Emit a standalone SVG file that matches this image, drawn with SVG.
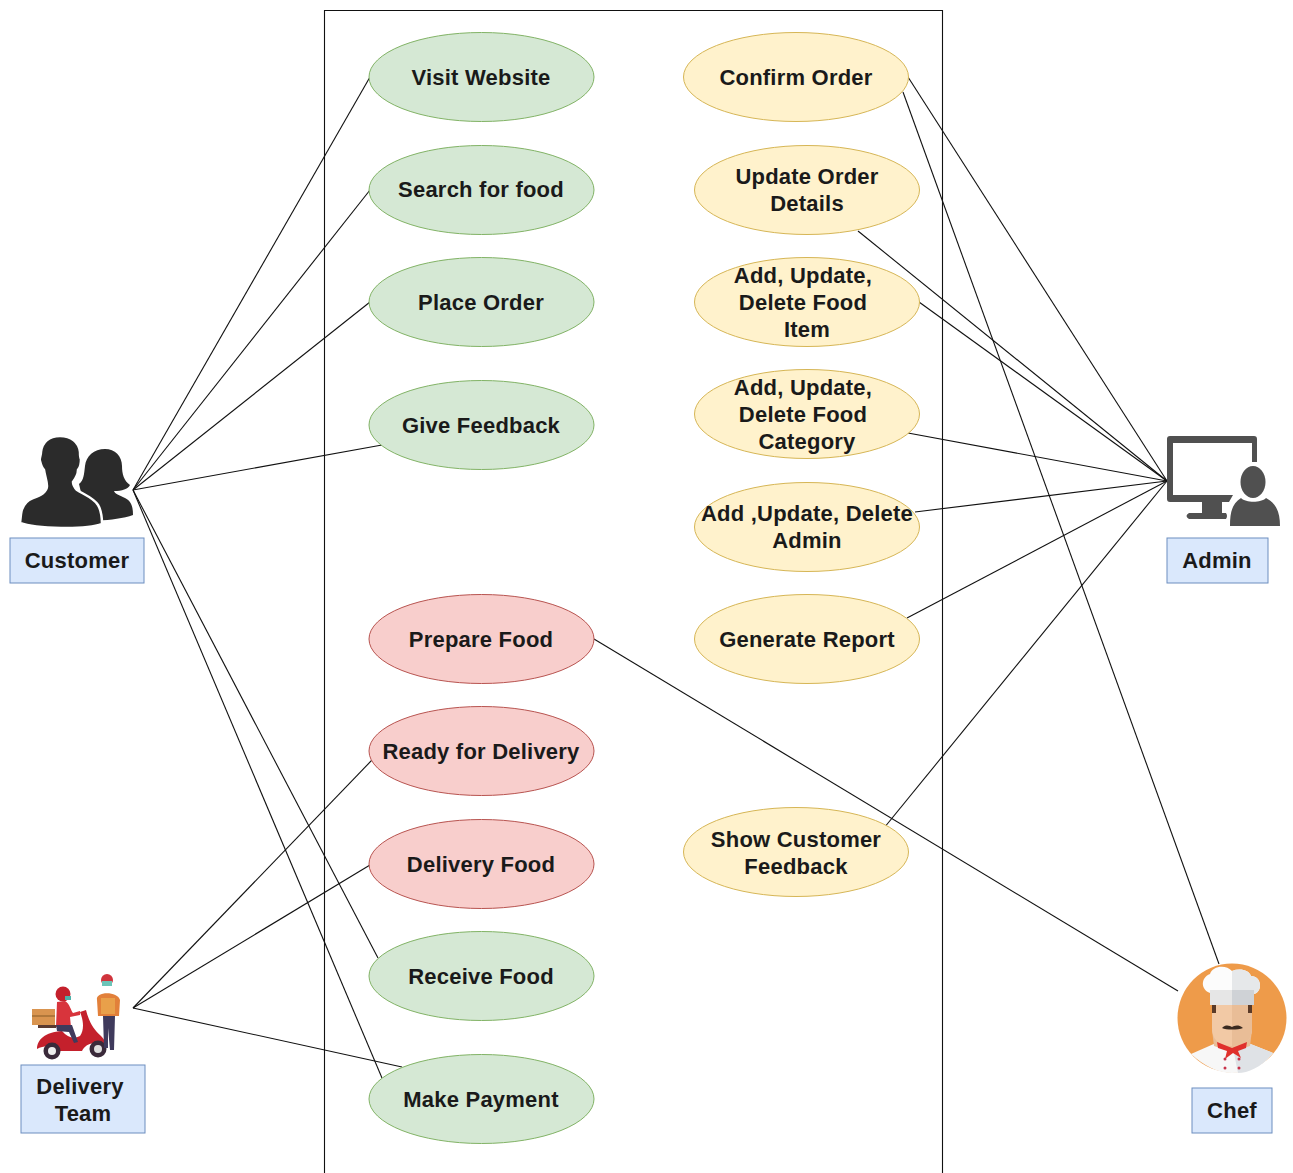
<svg xmlns="http://www.w3.org/2000/svg" width="1293" height="1173" viewBox="0 0 1293 1173">
<style>
text{font-family:"Liberation Sans",Arial,sans-serif;font-weight:bold;font-size:22px;letter-spacing:.22px;fill:#1a1a1a;text-anchor:middle}
.uc ellipse{stroke-width:1}
.g ellipse{fill:#d5e8d4;stroke:#82b366}
.r ellipse{fill:#f8cecc;stroke:#b85450}
.y ellipse{fill:#fff2cc;stroke:#d6b656}
.b{fill:#dae8fc;stroke:#6c8ebf;stroke-width:1}
#connectors line{stroke:#111;stroke-width:1.1}
.ic{fill:#2b2b2b}
.ad{fill:#505050}
</style>
<rect width="1293" height="1173" fill="#fff"/>
<path id="system" d="M324.500 1173V10.500H942.500V1173" fill="none" stroke="#111" stroke-width="1.1"/>
<g id="connectors">
<line x1="133" y1="490" x2="370" y2="77"/>
<line x1="133" y1="490" x2="370" y2="190"/>
<line x1="133" y1="490" x2="370" y2="302"/>
<line x1="133" y1="490" x2="382" y2="445"/>
<line x1="133" y1="490" x2="378" y2="958"/>
<line x1="133" y1="490" x2="382" y2="1078"/>
<line x1="133" y1="1008" x2="372" y2="760"/>
<line x1="133" y1="1008" x2="370" y2="865"/>
<line x1="133" y1="1008" x2="402" y2="1067"/>
<line x1="1167" y1="481" x2="908" y2="77"/>
<line x1="1167" y1="481" x2="858" y2="231"/>
<line x1="1167" y1="481" x2="919" y2="302"/>
<line x1="1167" y1="481" x2="908" y2="433"/>
<line x1="1167" y1="481" x2="915" y2="512"/>
<line x1="1167" y1="481" x2="907" y2="618"/>
<line x1="1167" y1="481" x2="884" y2="828"/>
<line x1="903" y1="92" x2="1219" y2="964"/>
<line x1="594" y1="639" x2="1178" y2="991"/>
</g>
<g id="visit-website" class="uc g"><ellipse cx="481.500" cy="77" rx="112.500" ry="44.500"/><text x="481" y="85">Visit Website</text></g>
<g id="search-food" class="uc g"><ellipse cx="481.500" cy="190" rx="112.500" ry="44.500"/><text x="481" y="197">Search for food</text></g>
<g id="place-order" class="uc g"><ellipse cx="481.500" cy="302" rx="112.500" ry="44.500"/><text x="481" y="310">Place Order</text></g>
<g id="give-feedback" class="uc g"><ellipse cx="481.500" cy="425" rx="112.500" ry="44.500"/><text x="481" y="433">Give Feedback</text></g>
<g id="prepare-food" class="uc r"><ellipse cx="481.500" cy="639" rx="112.500" ry="44.500"/><text x="481" y="646.500">Prepare Food</text></g>
<g id="ready-delivery" class="uc r"><ellipse cx="481.500" cy="751" rx="112.500" ry="44.500"/><text x="481" y="758.500">Ready for Delivery</text></g>
<g id="delivery-food" class="uc r"><ellipse cx="481.500" cy="864" rx="112.500" ry="44.500"/><text x="481" y="871.500">Delivery Food</text></g>
<g id="receive-food" class="uc g"><ellipse cx="481.500" cy="976" rx="112.500" ry="44.500"/><text x="481" y="983.500">Receive Food</text></g>
<g id="make-payment" class="uc g"><ellipse cx="481.500" cy="1099" rx="112.500" ry="44.500"/><text x="481" y="1107">Make Payment</text></g>
<g id="confirm-order" class="uc y"><ellipse cx="796" cy="77" rx="112.500" ry="44.500"/><text x="796" y="85">Confirm Order</text></g>
<g id="update-order" class="uc y"><ellipse cx="807" cy="190" rx="112.500" ry="44.500"/><text x="807" y="184">Update Order</text><text x="807" y="211">Details</text></g>
<g id="food-item" class="uc y"><ellipse cx="807" cy="302" rx="112.500" ry="44.500"/><text x="803" y="283">Add, Update,</text><text x="803" y="310">Delete Food</text><text x="807" y="337">Item</text></g>
<g id="food-category" class="uc y"><ellipse cx="807" cy="414" rx="112.500" ry="44.500"/><text x="803" y="395">Add, Update,</text><text x="803" y="422">Delete Food</text><text x="807" y="449">Category</text></g>
<g id="admin-crud" class="uc y"><ellipse cx="807" cy="527" rx="112.500" ry="44.500"/><text x="807" y="521">Add ,Update, Delete</text><text x="807" y="548">Admin</text></g>
<g id="report" class="uc y"><ellipse cx="807" cy="639" rx="112.500" ry="44.500"/><text x="807" y="647">Generate Report</text></g>
<g id="show-feedback" class="uc y"><ellipse cx="796" cy="852" rx="112.500" ry="44.500"/><text x="796" y="847">Show Customer</text><text x="796" y="874">Feedback</text></g>
<g id="customer">
<path class="ic" d="M105 449C94 449 86 456 85 466C84 474 84 480 79 484L84 505L90 520C105 521 122 519 133 515C133 506 131 501 125 498C119 495 115 494 114 491C122 491 128 489 130 485C124 481 122 474 122 466C122 456 115 449 105 449Z"/>
<path class="ic" stroke="#fff" stroke-width="2.500" d="M60 436C49 436 42 442 41 452C41 456 39 458 40 461C41 465 42 468 44 470C45 477 47 481 47 486C47 492 41 495 33 498C25 501 22 506 21 514L20 523C36 529 86 530 102 524C102 516 101 510 98 505C94 498 83 494 77 490C75 488 73 486 73 482C76 478 78 474 78 470C80 468 81 463 81 459C80 458 80 455 80 452C79 442 71 436 60 436Z"/>
<rect class="b" x="10" y="538" width="134" height="45"/>
<text x="77" y="568">Customer</text>
</g>
<g id="delivery-team">
<rect x="32" y="1009" width="23" height="16" fill="#d9944f"/><rect x="32" y="1015" width="23" height="2" fill="#b0773a"/>
<path d="M38 1025H56V1028H38Z" fill="#5a3a30"/>
<path d="M37 1049C37 1040 45 1032 62 1031C68 1038 74 1039 80 1036C84 1030 84 1022 80 1012L86 1010C89 1022 94 1030 101 1036C105 1040 107 1044 106 1048C96 1040 86 1043 82 1051L60 1051C54 1045 44 1045 37 1049Z" fill="#c4202c"/>
<circle cx="52" cy="1051" r="8.500" fill="#3a2a3a"/><circle cx="52" cy="1051" r="4" fill="#eee"/>
<circle cx="98" cy="1049" r="8.500" fill="#3a2a3a"/><circle cx="98" cy="1049" r="4" fill="#ddd"/>
<path d="M57 1002L65 1001C70 1004 71 1011 73 1013L80 1011L80 1015L70 1017L71 1027L56 1027Z" fill="#d8343c"/>
<path d="M56 1025L72 1025L78 1042L74 1043L69 1032L57 1031Z" fill="#3f3a5c"/>
<circle cx="63" cy="994" r="7.500" fill="#c4202c"/><path d="M65 996h6v4h-6z" fill="#4eb0a8"/>
<path d="M97 1000C95 991 118 991 120 1000L119 1016L98 1016Z" fill="#e2803a"/><rect x="101" y="998" width="14" height="16" fill="#e9a04a"/>
<path d="M103 1016H115L114 1050H110L108 1028L108 1048H104Z" fill="#3f3a5c"/>
<circle cx="107" cy="980" r="6" fill="#d0343c"/><path d="M102 981h10v5h-10z" fill="#6cc4b8"/>
<rect class="b" x="21" y="1065" width="124" height="68"/>
<text x="80" y="1094">Delivery</text><text x="83" y="1121">Team</text>
</g>
<g id="admin">
<path class="ad" fill-rule="evenodd" d="M1170 436H1254Q1257 436 1257 439V462H1252V443H1173V495H1233L1229 502H1222V513H1226Q1228 516 1226 519H1189Q1184 516 1189 513H1202V502H1170Q1167 502 1167 499V439Q1167 436 1170 436Z"/>
<ellipse class="ad" cx="1253" cy="482" rx="12.500" ry="16"/>
<path class="ad" d="M1230 526C1230 512 1232 504 1241 498C1246 503 1261 503 1266 498C1276 503 1280 512 1280 526Z"/>
<rect class="b" x="1167" y="538" width="101" height="45"/>
<text x="1217" y="568">Admin</text>
</g>
<g id="chef">
<circle cx="1232" cy="1018" r="54.500" fill="#ee9b4a"/>
<path d="M1191 1054L1216 1043H1248L1273 1053C1262 1067 1248 1073 1232 1073C1218 1073 1204 1066 1191 1054Z" fill="#f7f7f7"/>
<path d="M1232 1043H1248L1273 1053C1262 1067 1248 1073 1238 1073Z" fill="#dfe2e6"/>
<path d="M1212 1030H1252L1250 1046L1232 1052L1214 1046Z" fill="#e9bd97"/>
<path d="M1212 1002H1252V1028C1252 1042 1242 1046 1232 1046C1222 1046 1212 1042 1212 1028Z" fill="#f2c9a5"/>
<path d="M1232 1002H1252V1028C1252 1042 1242 1046 1232 1046Z" fill="#e9bd97"/>
<path d="M1212 1005h4v8h-4zM1248 1005h4v8h-4z" fill="#5a3a28"/>
<path d="M1222 1028C1226 1024 1230 1026 1232 1027C1234 1026 1238 1024 1243 1028C1238 1030 1226 1030 1222 1028Z" fill="#3a2a20"/>
<path d="M1217 1042L1232 1048L1247 1042L1246 1048L1238 1051L1241 1058L1233 1053L1225 1059L1227 1051L1218 1048Z" fill="#e0302c"/>
<circle cx="1225" cy="1059" r="1.500" fill="#c8324a"/><circle cx="1239" cy="1059" r="1.500" fill="#c8324a"/><circle cx="1225" cy="1068" r="1.500" fill="#c8324a"/><circle cx="1239" cy="1068" r="1.500" fill="#c8324a"/>
<path d="M1210 1005V993C1201 990 1200 978 1210 974C1212 966 1226 964 1232 971C1240 968 1249 970 1251 976C1262 976 1263 992 1254 994V1005Z" fill="#fcfcfc"/>
<path d="M1232 971C1240 968 1249 970 1251 976C1262 976 1263 992 1254 994V1005H1232Z" fill="#e6e8ea"/>
<path d="M1210 990H1254V1005H1210Z" fill="#e6e6e6"/><path d="M1232 990H1254V1005H1232Z" fill="#cfd2d6"/>
<rect class="b" x="1192" y="1088" width="80" height="45"/>
<text x="1232" y="1118">Chef</text>
</g>
</svg>
